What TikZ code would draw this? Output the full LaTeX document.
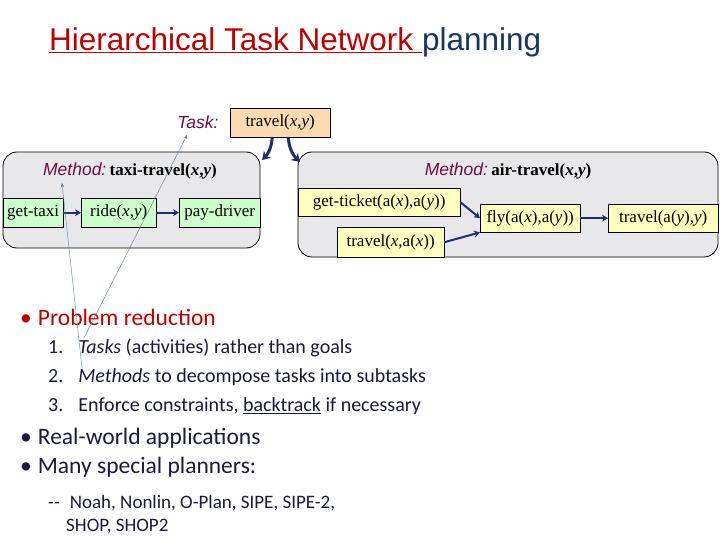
\documentclass[tikz,border=0pt]{standalone}
\usepackage{fontspec}
\setmainfont{Liberation Serif}
\newfontfamily\arfont{Liberation Sans}
\newfontfamily\calfont{Carlito}
\usetikzlibrary{arrows.meta}
\definecolor{navy}{HTML}{1F2F6F}
\definecolor{ttl}{HTML}{17375E}
\definecolor{redt}{HTML}{C00000}
\definecolor{plum}{HTML}{6B1040}
\definecolor{meth}{HTML}{E8E8EA}
\definecolor{grn}{HTML}{CCFFCC}
\definecolor{yel}{HTML}{FFFFC0}
\definecolor{org}{HTML}{FCDBB0}
\definecolor{ptr}{HTML}{5A7FA0}
\definecolor{bodyt}{HTML}{1A1A40}
\tikzset{x=1pt,y=-1pt,
 mbox/.style={draw,thick,fill=meth,rounded corners=14pt},
 sub/.style={draw,anchor=north west,inner sep=0pt,font=\fontsize{17}{17}\selectfont},
 flow/.style={draw=navy,line width=2pt,-{Stealth[length=6pt,width=7pt]}},
 big/.style={draw=navy,line width=3pt,-{Stealth[length=8pt,width=10pt]}},
 ptrl/.style={draw=ptr,thin,-{Stealth[length=4pt]}},
 lbl/.style={font=\arfont\fontsize{17.5}{17.5}\selectfont\itshape,text=plum},
 bul/.style={anchor=west,font=\calfont\fontsize{23.5}{23.5}\selectfont,inner sep=0pt},
 itm/.style={anchor=west,font=\calfont\fontsize{20}{20}\selectfont,inner sep=0pt,text=bodyt}}
\begin{document}
\begin{tikzpicture}
\useasboundingbox (0,0) rectangle (720,540);
\fill[white] (0,0) rectangle (720,540);
\node[anchor=west,inner sep=0pt,font=\arfont\fontsize{31.5}{31.5}\selectfont] (title) at (49,42)
 {\textcolor{redt}{\underline{Hierarchical Task Network }}\textcolor{ttl}{planning}};
% task
\node[draw,fill=org,minimum width=100pt,minimum height=29pt,anchor=north west,inner sep=0pt,font=\fontsize{17}{17}\selectfont] (task) at (230,108) {travel(\textit{x},\textit{y})};
\node[lbl,anchor=east] (tl) at (222,122) {Task:};
% methods
\draw[mbox] (3,152) rectangle (260,248);
\node[anchor=base,inner sep=0pt] (ml1) at (130,176) {\textcolor{plum}{\arfont\fontsize{17.5}{17.5}\selectfont\itshape Method:} \fontsize{17}{17}\selectfont\textbf{taxi-travel(\textit{x},\textit{y})}};
\draw[mbox] (298,152) rectangle (718,257);
\node[anchor=base,inner sep=0pt] (ml2) at (508,176) {\textcolor{plum}{\arfont\fontsize{17.5}{17.5}\selectfont\itshape Method:} \fontsize{17}{17}\selectfont\textbf{air-travel(\textit{x},\textit{y})}};
% taxi subs
\node[sub,fill=grn,minimum width=60pt,minimum height=29pt] (gt) at (3,198) {get-taxi};
\node[sub,fill=grn,minimum width=75pt,minimum height=29pt] (ride) at (81,198) {ride(\textit{x},\textit{y})};
\node[sub,fill=grn,minimum width=81pt,minimum height=29pt] (pd) at (179,198) {pay-driver};
\draw[flow] (gt) -- (ride);
\draw[flow] (ride) -- (pd);
% air subs
\node[sub,fill=yel,minimum width=162pt,minimum height=28pt] (gk) at (298,188) {get-ticket(a(\textit{x}),a(\textit{y}))};
\node[sub,fill=yel,minimum width=107pt,minimum height=30pt] (tx) at (337,227) {travel(\textit{x},a(\textit{x}))};
\node[sub,fill=yel,minimum width=100pt,minimum height=28pt] (fly) at (480,204) {fly(a(\textit{x}),a(\textit{y}))};
\node[sub,fill=yel,minimum width=110pt,minimum height=28pt] (ty) at (608,204) {travel(a(\textit{y}),\textit{y})};
\draw[flow] (gk.east) -- (fly.west);
\draw[flow] (tx.east) -- (fly.south west);
\draw[flow] (fly) -- (ty);
% task arrows
\coordinate (c1) at (262,160);
\coordinate (c2) at (300,162);
\draw[big] ([xshift=-8pt]task.south) to[bend left=20] (c1);
\draw[big] ([xshift=8pt]task.south) to[bend right=20] (c2);
% text
\node[bul,text=redt] (b1) at (20,317) {\textbullet\hspace{6pt}Problem reduction};
\node[itm] (n1) at (48,348) {1.\hspace{15pt}\textit{Tasks} (activities) rather than goals};
\node[itm] (n2) at (48,377) {2.\hspace{15pt}\textit{Methods} to decompose tasks into subtasks};
\node[itm] (n3) at (48,406) {3.\hspace{15pt}Enforce constraints, \underline{backtrack} if necessary};
\node[bul,text=bodyt] (b2) at (20,438) {\textbullet\hspace{6pt}Real-world applications};
\node[bul,text=bodyt] (b3) at (20,467) {\textbullet\hspace{6pt}Many special planners:};
\node[itm,font=\calfont\fontsize{19}{19}\selectfont] (s1) at (48,503) {--\hspace{10pt}Noah, Nonlin, O-Plan, SIPE, SIPE-2,};
\node[itm,font=\calfont\fontsize{19}{19}\selectfont] (s2) at (66,527) {SHOP, SHOP2};
% pointers
\coordinate (p1) at (84,338);
\coordinate (p2) at (82,368);
\coordinate (q1) at (187,135);
\coordinate (q2) at (62,183);
\draw[ptrl] (p1) -- (q1);
\draw[ptrl] (p2) -- (q2);
\end{tikzpicture}
\end{document}
